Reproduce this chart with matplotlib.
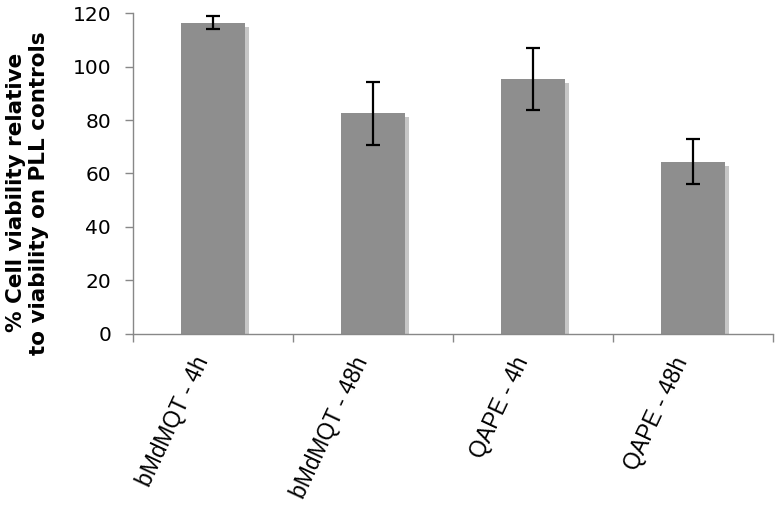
import matplotlib
matplotlib.use("Agg")
import matplotlib.pyplot as plt
import matplotlib.transforms as mtransforms
from matplotlib import font_manager as fm
import numpy as np

categories = ["bMdMQT - 4h", "bMdMQT - 48h", "QAPE - 4h", "QAPE - 48h"]
values = [116.5, 82.5, 95.3, 64.4]
errors = [2.5, 11.9, 11.6, 8.5]
yticks = [0, 20, 40, 60, 80, 100, 120]
ylabel = "% Cell viability relative\nto viability on PLL controls"

# locate upright Liberation Sans regular
lib_path = None
for f in fm.fontManager.ttflist:
    if f.name == "Liberation Sans" and f.style == "normal" and f.weight in (400, "normal", "regular"):
        lib_path = f.fname
        break
if lib_path is not None:
    xfont = fm.FontProperties(fname=lib_path, size=16.5)
else:
    xfont = fm.FontProperties(family="DejaVu Sans", size=15)

fig = plt.figure(figsize=(7.82, 5.18), dpi=100)
ax = fig.add_axes([133.3/782, 1-333.7/518, (773-133.3)/782, (333.7-13.3)/518])

x = np.arange(len(categories))
bar_w = 0.4
shadow_tr = ax.transData + mtransforms.ScaledTranslation(4/100, -4/100, fig.dpi_scale_trans)
ax.bar(x, values, width=bar_w, color="#c6c6c6", transform=shadow_tr, zorder=1)
ax.bar(x, values, width=bar_w, color="#8e8e8e", zorder=2)
ax.errorbar(x, values, yerr=errors, fmt="none", ecolor="black", elinewidth=1.6,
            capsize=5, capthick=1.6, zorder=3)

ax.set_xlim(-0.5, len(categories) - 0.5)
ax.set_ylim(0, 120)
ax.set_yticks(yticks)
ax.set_yticklabels([str(v) for v in yticks], fontsize=14.5, family="DejaVu Sans")
ax.set_xticks(x)
ax.set_xticklabels(categories, rotation=65, ha="right", fontproperties=xfont)
ax.set_xticks(np.arange(-0.5, len(categories)), minor=True)
ax.tick_params(axis="x", which="major", length=0, pad=14)
ax.tick_params(axis="x", which="minor", length=6, width=1, color="#888888", direction="out")
ax.tick_params(axis="y", length=6, width=1, color="#888888", direction="out", pad=10)

for s in ["top", "right"]:
    ax.spines[s].set_visible(False)
for s in ["left", "bottom"]:
    ax.spines[s].set_color("#888888")
    ax.spines[s].set_linewidth(1)

ax.set_ylabel(ylabel, fontsize=15.5, fontweight="bold", family="DejaVu Sans",
              linespacing=1.15)
ax.yaxis.set_label_coords(-0.132, 0.44)

fig.savefig("out.png", dpi=100)
